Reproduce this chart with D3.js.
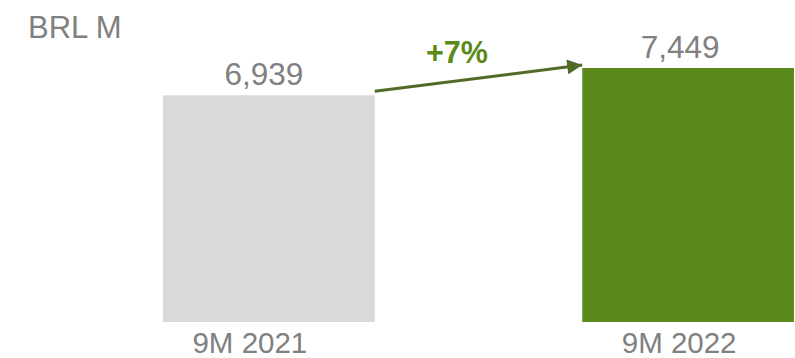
<!DOCTYPE html>
<html lang="en">
  <head>
    <meta charset="UTF-8" />
    <title>BRL M – 9M 2021 vs 9M 2022</title>
    <script src="https://d3js.org/d3.v7.min.js"></script>
    <style>
      body {
        margin: 0;
        background: #fff;
        font-family: 'Liberation Sans', Arial, sans-serif;
      }
      .lbl {
        fill: #808080;
      }
    </style>
  </head>
  <body>
    <div id="chart"></div>
    <script>
      // data
      const periods = ['9M 2021', '9M 2022'];
      const values = [6939, 7449];
      const unitLabel = 'BRL M';
      const growthLabel = '+7%';

      const width = 795,
        height = 358;
      const barColors = ['#d9d9d9', '#5b8a1a'];

      const svg = d3
        .select('#chart')
        .append('svg')
        .attr('width', width)
        .attr('height', height);

      const x = d3
        .scaleBand()
        .domain(periods)
        .range([163, 794])
        .paddingInner(0.495)
        .paddingOuter(0);

      // value axis does not start at zero in the original
      const y = d3.scaleLinear().domain([2700, 7449]).range([322, 68]);

      const rows = periods.map((p, i) => ({ p, v: values[i], i }));

      // bars
      svg
        .selectAll('rect.bar')
        .data(rows)
        .join('rect')
        .attr('class', 'bar')
        .attr('x', (d) => x(d.p))
        .attr('y', (d) => y(d.v))
        .attr('width', x.bandwidth())
        .attr('height', (d) => y.range()[0] - y(d.v))
        .attr('fill', (d) => barColors[d.i]);

      // value labels
      const valShift = [-5, -8];
      svg
        .selectAll('text.val')
        .data(rows)
        .join('text')
        .attr('class', 'lbl val')
        .attr('x', (d) => x(d.p) + x.bandwidth() / 2 + valShift[d.i])
        .attr('y', (d) => y(d.v) - 10)
        .attr('text-anchor', 'middle')
        .style('font-size', '31.5px')
        .text((d) => d3.format(',')(d.v));

      // category labels
      const catShift = [-19, -9];
      svg
        .selectAll('text.cat')
        .data(rows)
        .join('text')
        .attr('class', 'lbl cat')
        .attr('x', (d) => x(d.p) + x.bandwidth() / 2 + catShift[d.i])
        .attr('y', 353)
        .attr('text-anchor', 'middle')
        .style('font-size', '29.5px')
        .text((d) => d.p);

      // unit label
      svg
        .append('text')
        .attr('class', 'lbl')
        .attr('x', 28)
        .attr('y', 38)
        .style('font-size', '31px')
        .text(unitLabel);

      // growth arrow
      svg
        .append('defs')
        .append('marker')
        .attr('id', 'head')
        .attr('viewBox', '0 0 10 10')
        .attr('refX', 10)
        .attr('refY', 5)
        .attr('markerUnits', 'userSpaceOnUse')
        .attr('markerWidth', 18)
        .attr('markerHeight', 15)
        .attr('orient', 'auto')
        .append('path')
        .attr('d', 'M0,0L10,5L0,10Z')
        .attr('fill', '#4f6b28');

      const x0 = x(periods[0]) + x.bandwidth();
      const x1 = x(periods[1]);
      svg
        .append('line')
        .attr('x1', x0)
        .attr('y1', y(values[0]) - 4)
        .attr('x2', x1)
        .attr('y2', y(values[1]) - 3)
        .attr('stroke', '#4f6b28')
        .attr('stroke-width', 3)
        .attr('marker-end', 'url(#head)');

      svg
        .append('text')
        .attr('x', 457)
        .attr('y', 63)
        .attr('text-anchor', 'middle')
        .attr('fill', '#5b8a1a')
        .style('font-size', '30.5px')
        .style('font-weight', 'bold')
        .text(growthLabel);
    </script>
  </body>
</html>
